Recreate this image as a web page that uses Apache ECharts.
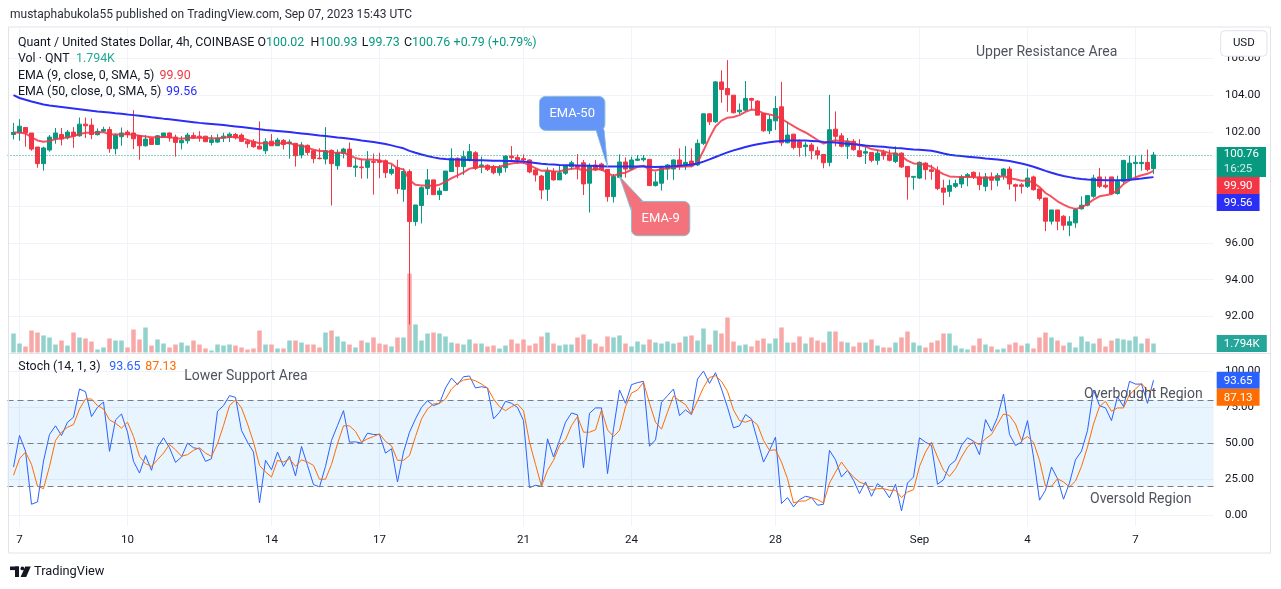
<!DOCTYPE html>
<html>
<head>
<meta charset="utf-8">
<title>Quant / United States Dollar, 4h</title>
<script src="https://cdn.jsdelivr.net/npm/echarts@6/dist/echarts.min.js"></script>
<style>
html,body{margin:0;padding:0;background:#ffffff;}
#chart{width:1281px;height:589px;}
</style>
</head>
<body>
<div id="chart"></div>
<script>
// ---------------- data, first candle = Aug 6 20:00 UTC, 4h bars ----------------
const firstBarUTC = Date.UTC(2023, 7, 6, 20);
const barHours = 4;

const opens = [
101.87,101.96,102.25,101.95,101.19,100.29,101.03,101.62,101.87,101.69,
102.00,101.80,102.43,102.38,101.86,102.05,102.14,101.10,101.75,102.00,
101.95,101.82,101.26,101.66,101.33,101.71,101.95,101.73,101.42,101.53,
101.82,101.78,101.78,101.44,101.46,101.68,101.71,101.87,101.84,101.51,
101.48,101.24,100.99,101.51,101.26,101.55,101.37,101.39,100.76,101.28,
100.99,100.59,100.54,101.01,100.18,100.85,101.08,100.09,100.11,100.09,
100.40,100.45,100.45,99.77,100.07,98.90,99.86,97.15,98.02,98.94,
99.41,98.61,98.83,99.86,100.58,100.13,100.52,100.88,100.13,100.20,
100.13,99.80,100.07,100.70,100.63,100.56,100.49,99.95,99.62,98.90,
99.86,99.41,99.77,100.13,100.16,100.34,99.23,100.22,100.27,99.98,
98.50,99.55,100.38,100.00,100.47,100.50,100.52,99.10,99.23,100.00,
100.00,100.49,100.16,100.43,100.22,101.39,102.99,102.56,104.72,104.36,
104.00,103.10,103.19,103.82,103.68,103.01,102.07,102.61,103.37,101.42,
101.89,101.48,101.21,101.30,100.99,100.79,100.36,102.16,101.80,101.23,
101.50,100.99,100.86,100.90,100.47,100.90,100.77,100.41,100.86,100.14,
99.55,99.51,100.32,99.96,99.93,98.97,98.79,99.06,99.19,99.57,
99.82,99.57,99.06,99.57,99.39,99.64,100.00,99.15,99.14,99.06,
99.57,98.92,98.43,97.17,97.78,97.44,96.95,97.08,97.84,98.04,
98.52,99.57,99.12,99.57,98.67,99.33,99.42,100.29,100.29,100.36,
100.02];
const highs = [
102.50,102.70,102.25,101.95,101.19,101.21,101.84,102.22,102.22,102.11,
102.27,102.79,102.79,102.74,102.20,102.29,102.29,101.93,102.25,102.11,
103.19,101.82,101.84,101.69,101.84,101.96,101.98,101.86,101.78,101.96,
101.98,102.05,101.78,101.84,101.89,101.96,101.98,101.96,101.93,101.62,
101.62,102.58,101.66,101.89,101.69,101.62,101.60,101.39,101.46,101.33,
101.06,101.12,102.27,101.06,101.06,101.15,101.44,100.56,100.56,100.97,
100.83,100.88,100.52,100.22,100.50,100.04,99.98,98.05,99.05,100.00,
99.41,98.99,99.89,101.12,100.63,100.99,101.35,100.97,100.67,100.25,
100.22,100.22,100.76,101.24,100.79,100.79,100.52,100.04,99.68,100.09,
100.04,100.22,100.22,100.45,100.81,100.49,100.31,100.49,100.34,99.98,
99.73,100.79,100.63,100.67,100.76,100.76,100.52,99.86,100.13,100.27,
100.52,101.12,101.24,101.12,101.60,103.01,103.01,104.77,105.35,105.90,
104.00,103.55,104.77,103.86,103.73,103.01,102.92,103.95,104.72,102.56,
101.89,101.60,101.48,101.42,101.21,100.79,104.02,103.12,101.95,101.68,
101.62,101.62,101.23,100.90,101.05,101.05,101.05,101.23,100.90,100.14,
99.60,100.41,100.36,100.23,100.14,99.42,99.42,99.42,99.69,99.78,
99.87,99.82,99.78,99.82,99.78,100.05,100.14,99.21,99.24,100.02,
99.64,98.92,98.43,97.78,97.78,97.50,97.44,97.89,98.52,98.56,
99.69,100.05,99.60,99.57,99.64,100.47,100.72,100.72,100.77,101.05,
100.93];
const lows = [
101.60,101.53,101.21,100.99,100.07,99.91,100.94,101.37,101.28,101.60,
101.15,101.75,101.68,101.62,101.82,101.98,100.88,100.79,101.26,101.69,
101.08,100.50,101.21,101.30,101.30,101.69,101.48,100.67,101.06,101.37,
101.64,101.48,101.46,101.28,101.42,101.46,101.46,101.60,101.46,101.15,
101.15,101.08,100.81,101.26,101.26,101.06,100.56,100.13,100.58,100.76,
100.31,100.52,100.25,98.02,99.96,100.58,100.13,99.57,99.48,99.48,
98.61,99.50,99.51,99.66,98.65,98.23,91.57,96.92,97.05,98.59,
98.61,98.32,98.83,99.84,99.50,99.68,100.41,99.95,99.77,99.89,
99.71,99.64,99.82,100.49,100.27,100.27,99.77,99.32,98.36,98.27,
99.37,99.41,99.68,99.95,99.44,98.59,97.64,99.89,99.89,98.23,
98.18,99.53,99.53,99.95,100.43,100.40,99.10,99.05,98.83,99.41,
99.41,99.95,99.95,100.09,100.16,101.30,102.38,102.50,103.59,103.10,
103.01,102.97,103.10,103.19,102.92,102.02,101.89,102.11,101.24,101.39,
101.06,100.67,100.67,100.52,100.52,100.04,100.14,101.23,101.17,100.54,
100.99,100.63,100.27,100.36,100.23,100.50,100.41,100.32,100.05,98.34,
98.88,99.46,99.42,99.42,98.85,98.04,98.49,98.97,98.97,99.06,
99.46,98.85,98.79,98.85,99.06,99.42,98.88,98.25,98.67,98.97,
98.83,98.29,96.63,96.99,96.68,96.68,96.36,96.81,97.80,97.98,
98.43,98.97,98.94,98.61,98.61,99.24,99.33,99.46,99.91,99.87,
99.73];
const closes = [
101.98,102.32,101.96,101.08,100.29,101.14,101.73,101.95,101.62,102.00,
101.78,102.43,102.34,101.87,102.04,102.14,101.10,101.84,101.95,101.87,
101.64,101.26,101.62,101.33,101.80,101.95,101.68,101.44,101.55,101.84,
101.68,101.69,101.48,101.59,101.66,101.78,101.89,101.69,101.50,101.37,
101.21,101.08,101.48,101.26,101.57,101.33,101.46,100.72,101.30,100.90,
100.56,100.56,100.99,100.29,100.88,101.08,100.13,100.16,100.07,100.45,
100.36,100.36,99.80,99.98,98.94,99.86,97.15,98.05,98.99,99.41,
98.61,98.81,99.89,100.58,100.13,100.67,100.94,100.04,100.22,99.98,
99.80,100.09,100.70,100.61,100.49,100.49,99.84,99.68,98.86,99.89,
99.41,99.80,100.16,100.34,100.09,99.19,100.16,99.95,99.95,98.50,
99.59,100.38,100.00,100.49,100.54,100.58,99.10,99.30,100.09,100.22,
100.49,100.16,100.36,100.16,101.39,102.99,102.56,104.72,104.31,104.02,
103.05,103.19,103.82,103.73,102.92,102.07,102.68,103.28,101.42,101.84,
101.17,101.17,101.30,100.99,100.76,100.34,102.13,101.77,101.23,101.50,
101.05,100.68,100.94,100.47,100.86,100.72,100.47,100.86,100.11,99.57,
99.60,100.36,99.96,99.87,98.94,98.74,99.10,99.21,99.57,99.69,
99.57,99.15,99.57,99.39,99.64,100.00,99.19,99.06,99.06,99.51,
98.88,98.40,97.17,97.78,97.17,96.95,97.14,97.80,98.04,98.56,
99.51,99.06,99.03,98.67,99.33,100.47,100.32,100.36,100.36,99.97,
100.76];
// volume in thousands of QNT
const volumes = [
3.78,1.79,1.20,4.38,3.98,3.39,2.99,1.59,2.39,1.39,
3.98,2.99,2.79,2.19,0.60,1.00,2.79,2.39,2.39,1.00,
4.58,2.59,4.98,1.39,2.59,1.79,1.00,1.59,1.99,1.39,
2.39,1.59,0.80,0.40,1.59,1.39,1.59,1.39,1.00,0.60,
0.80,4.38,1.59,1.59,0.80,0.80,2.39,2.39,1.99,1.59,
1.59,1.00,3.98,4.38,3.19,2.19,1.59,1.00,2.39,1.99,
2.99,1.79,1.59,1.20,2.99,2.99,15.7,5.58,2.39,3.78,
3.98,3.78,3.19,1.99,1.79,1.59,2.59,1.79,1.79,1.20,
1.39,0.80,1.39,2.59,1.79,2.59,1.39,1.79,3.19,3.98,
1.79,1.39,1.59,1.59,2.99,3.59,2.59,1.79,1.20,3.19,
2.99,3.39,1.79,1.20,2.19,1.59,2.59,1.99,1.79,2.19,
1.79,1.99,3.19,3.39,2.39,4.78,1.59,4.38,3.78,6.97,
2.19,1.39,1.59,1.20,2.39,2.79,1.79,2.79,4.98,1.99,
1.99,3.19,1.79,2.99,2.39,1.99,4.18,4.18,2.19,1.99,
1.20,1.99,1.99,2.59,1.39,1.00,1.00,1.99,2.99,4.18,
1.99,1.39,1.00,1.99,2.39,3.78,3.78,1.39,0.80,0.60,
1.39,2.79,1.59,1.20,0.60,0.80,1.59,1.99,1.39,1.79,
0.80,2.99,3.98,2.99,2.39,1.39,1.99,1.00,3.19,2.19,
1.79,2.79,1.20,2.39,2.79,2.59,2.39,3.19,1.79,2.79,
1.794];
const ema9 = [
101.98,101.98,101.93,101.72,101.55,101.48,101.52,101.62,101.66,101.72,
101.78,101.90,101.96,101.97,101.98,102.00,101.88,101.87,101.88,101.88,
101.86,101.80,101.76,101.72,101.72,101.74,101.73,101.66,101.64,101.68,
101.70,101.70,101.68,101.66,101.67,101.70,101.74,101.73,101.68,101.58,
101.48,101.40,101.40,101.38,101.40,101.40,101.42,101.28,101.28,101.15,
101.05,100.98,100.98,100.90,100.88,100.90,100.72,100.60,100.52,100.52,
100.50,100.48,100.36,100.28,100.04,99.98,99.40,99.14,99.10,99.10,
99.08,99.15,99.30,99.50,99.65,99.82,100.02,100.08,100.12,100.12,
100.10,100.12,100.22,100.30,100.34,100.35,100.20,100.05,99.90,99.92,
99.86,99.88,99.94,100.02,100.04,99.90,99.96,99.98,99.98,99.78,
99.62,99.76,99.80,99.96,100.12,100.18,99.96,99.92,100.00,100.04,
100.10,100.12,100.14,100.15,100.35,101.00,101.70,102.30,102.62,102.78,
102.82,102.92,103.10,103.22,103.18,103.02,102.95,102.88,102.72,102.52,
102.32,102.13,101.98,101.78,101.57,101.38,101.48,101.56,101.50,101.50,
101.42,101.28,101.22,101.08,101.02,100.96,100.86,100.84,100.70,100.45,
100.30,100.28,100.22,100.12,99.90,99.72,99.60,99.58,99.57,99.57,
99.57,99.52,99.54,99.52,99.55,99.62,99.50,99.44,99.36,99.38,
99.25,99.02,98.70,98.50,98.25,98.07,97.92,97.84,97.92,98.10,
98.34,98.52,98.58,98.64,98.85,99.18,99.40,99.55,99.66,99.74,
99.90];
const ema50 = [
104.00,103.85,103.75,103.66,103.58,103.50,103.44,103.40,103.36,103.32,
103.28,103.24,103.20,103.16,103.12,103.09,103.06,103.02,102.99,102.95,
102.92,102.88,102.84,102.80,102.77,102.73,102.70,102.66,102.62,102.58,
102.54,102.50,102.47,102.44,102.41,102.38,102.34,102.31,102.28,102.24,
102.20,102.16,102.12,102.09,102.06,102.03,102.00,101.96,101.93,101.90,
101.86,101.82,101.79,101.75,101.71,101.68,101.64,101.60,101.55,101.51,
101.46,101.41,101.35,101.28,101.20,101.12,100.98,100.88,100.79,100.70,
100.63,100.57,100.54,100.52,100.51,100.50,100.49,100.48,100.47,100.46,
100.45,100.45,100.44,100.43,100.42,100.40,100.36,100.33,100.29,100.26,
100.24,100.22,100.21,100.20,100.19,100.18,100.17,100.16,100.15,100.14,
100.13,100.13,100.13,100.13,100.13,100.13,100.12,100.11,100.12,100.13,
100.15,100.17,100.20,100.24,100.30,100.40,100.52,100.65,100.78,100.90,
101.01,101.10,101.19,101.27,101.34,101.40,101.45,101.49,101.52,101.54,
101.55,101.55,101.54,101.52,101.50,101.47,101.45,101.43,101.40,101.37,
101.34,101.31,101.27,101.24,101.22,101.20,101.17,101.14,101.12,101.09,
101.06,101.04,101.02,100.99,100.92,100.84,100.77,100.73,100.70,100.67,
100.64,100.61,100.57,100.54,100.51,100.47,100.43,100.37,100.30,100.22,
100.12,100.01,99.90,99.80,99.70,99.62,99.56,99.50,99.46,99.43,
99.41,99.40,99.39,99.39,99.39,99.40,99.42,99.45,99.48,99.52,
99.56];
const stochK = [
33.6,55.4,44.6,7.8,9.4,37.7,56.1,62.1,55.4,64.6,
68.0,87.6,85.7,68.5,74.9,78.6,44.4,66.2,70.3,57.7,
37.5,29.4,41.6,31.3,47.4,53.8,46.9,36.8,40.5,50.1,
46.9,46.2,37.5,39.3,72.2,76.1,83.0,81.8,58.9,50.8,
43.9,8.7,38.2,31.7,43.9,34.0,41.1,27.4,47.8,34.7,
21.4,19.8,34.0,52.0,62.3,72.6,50.8,51.0,50.1,57.0,
56.1,56.1,43.2,46.2,23.2,43.9,57.7,66.9,74.9,79.5,
76.1,77.7,88.3,95.2,90.6,96.1,96.6,88.3,89.2,88.3,
66.9,71.5,79.1,77.7,74.9,65.7,19.3,20.9,20.2,53.1,
40.5,52.0,64.6,71.0,69.7,33.1,70.8,74.5,74.5,29.0,
60.0,86.9,77.7,90.6,92.0,92.9,48.0,52.4,78.4,83.0,
87.6,69.2,73.1,69.9,94.5,100.0,91.5,98.9,87.6,74.9,
60.7,62.1,69.9,66.9,52.0,37.0,45.1,54.3,8.3,12.4,
6.0,11.0,13.3,12.4,7.1,7.8,45.1,38.6,26.7,31.3,
24.4,15.2,23.2,13.3,22.1,18.6,12.2,21.6,3.2,22.5,
26.7,53.8,50.8,48.5,21.6,24.8,34.7,38.2,48.5,53.8,
51.5,42.1,66.4,58.4,68.0,84.1,56.1,48.5,50.8,65.7,
40.5,10.6,17.5,33.6,25.5,11.3,22.5,38.6,44.6,58.9,
86.9,76.1,74.5,65.7,82.3,75.4,92.9,91.0,91.0,77.7,
93.65];
const stochD = [
27.8,39.3,43.9,35.4,20.2,18.6,34.0,52.0,57.7,61.1,
63.0,73.8,80.7,80.7,76.1,73.8,66.2,63.9,60.5,64.6,
54.7,40.9,35.9,34.0,38.6,43.2,49.2,45.5,41.1,42.1,
45.1,46.9,43.2,40.9,49.7,62.3,76.1,80.0,74.5,63.4,
50.8,34.7,30.1,26.7,38.2,37.0,39.3,34.0,38.6,37.0,
34.7,25.1,25.1,35.4,49.7,62.1,62.1,58.2,50.8,53.1,
54.7,56.6,51.3,48.3,38.2,38.2,41.6,54.7,66.9,73.8,
77.2,77.7,80.7,87.6,91.5,93.8,94.5,93.3,91.0,88.3,
80.7,75.4,72.6,75.4,77.2,72.6,50.8,35.4,20.2,31.3,
38.2,48.5,52.4,62.3,68.5,57.7,57.7,59.3,73.1,59.3,
54.7,58.9,75.4,84.8,86.9,92.2,77.7,64.6,59.8,71.5,
82.8,79.5,76.8,70.3,79.5,88.7,95.6,96.8,92.9,86.0,
73.1,65.7,64.6,66.2,62.8,52.0,45.1,45.5,37.0,25.5,
8.7,9.9,10.1,12.4,11.0,8.7,22.5,30.1,37.0,31.3,
26.7,23.2,21.6,17.5,18.6,18.6,17.5,17.5,12.4,16.3,
17.9,34.0,43.9,50.8,40.5,31.3,27.1,32.4,40.5,47.4,
51.3,49.0,53.1,56.1,63.4,70.3,69.2,63.4,52.0,54.7,
50.8,38.2,20.2,20.2,25.5,23.2,19.8,23.9,34.0,47.4,
63.4,75.4,79.1,72.2,74.5,74.5,83.7,87.6,91.5,86.4,
87.13];

// axis ticks
const tickDates  = ['2023-08-07','2023-08-10','2023-08-14','2023-08-17','2023-08-21','2023-08-24','2023-08-28','2023-09-01','2023-09-04','2023-09-07'];
const tickLabels = ['7','10','14','17','21','24','28','Sep','4','7'];
const priceAxis = {min: 90, max: 108, step: 2};
const stochAxis = {min: 0, max: 100, step: 25};
const stochLevels = [80, 50, 20];
const stochBand = [20, 80];

// ---------------- layout / styles ----------------
const FONT = 'Roboto, "Noto Sans", sans-serif';
const UP = '#089981', DOWN = '#f23645';
const VOL_UP = '#92d2cc', VOL_DOWN = '#f7a9a7';
const EMA9_C = '#f23645', EMA50_C = '#2b2ef5';
const K_C = '#2962ff', D_C = '#ff6d00';
const GRID_C = '#f0f3fa', BORDER_C = '#e0e3eb', TXT = '#131722';
const leadSlots = 1, tailSlots = 10;
const PLOT_LEFT = 7.5, SLOT_W = 6;

const N = closes.length;
const SLOTS = leadSlots + N + tailSlots;
const categories = [];
for (let s = 0; s < SLOTS; s++) {
  categories.push(new Date(firstBarUTC + (s - leadSlots) * barHours * 3600e3).toISOString().slice(0, 16).replace('T', ' '));
}
const tickAt = {};
tickDates.forEach((d, k) => { tickAt[d + ' 00:00'] = tickLabels[k]; });
const isTick = idx => tickAt[categories[idx]] !== undefined;
const slot = k => k + leadSlots;
const PLOT_W = (SLOTS - 1) * SLOT_W;

const candleData = closes.map((c, k) => [slot(k), opens[k], c, lows[k], highs[k]]);
const volData = volumes.map((v, k) => ({value: [slot(k), v], itemStyle: {color: closes[k] >= opens[k] ? VOL_UP : VOL_DOWN}}));
const line = arr => arr.map((v, k) => [slot(k), v]);
const last = N - 1;

const xAxes = [0, 1, 2, 3].map(g => ({
  type: 'category', gridIndex: g, data: categories, boundaryGap: false,
  show: g === 1 || g === 3,
  axisLine: {show: false}, axisTick: {show: false},
  axisLabel: g === 3 ? {show: true, interval: i => isTick(i), formatter: v => tickAt[v] || '',
    color: TXT, fontSize: 11.5, fontFamily: FONT, margin: 8} : {show: false},
  splitLine: {show: g === 1 || g === 3, interval: i => isTick(i), lineStyle: {color: GRID_C, width: 1}}
}));

const option = {
  animation: false,
  backgroundColor: '#ffffff',
  textStyle: {fontFamily: FONT},
  grid: [
    {left: PLOT_LEFT, width: PLOT_W, top: 21.4, height: 332.1},
    {left: PLOT_LEFT, width: PLOT_W, top: 27.5, height: 325},
    {left: PLOT_LEFT, width: PLOT_W, top: 371.1, height: 144.4},
    {left: PLOT_LEFT, width: PLOT_W, top: 354.5, height: 172}
  ],
  xAxis: xAxes,
  yAxis: [
    {gridIndex: 0, type: 'value', min: priceAxis.min, max: priceAxis.max, interval: priceAxis.step, position: 'right',
     axisLine: {show: false}, axisTick: {show: false}, splitLine: {lineStyle: {color: GRID_C}},
     axisLabel: {formatter: v => v.toFixed(2), color: TXT, fontSize: 11.5, fontFamily: FONT, margin: 11.5, showMinLabel: false, showMaxLabel: false}},
    {gridIndex: 1, type: 'value', min: 0, max: 64.7, show: false},
    {gridIndex: 2, type: 'value', min: stochAxis.min, max: stochAxis.max, interval: stochAxis.step, position: 'right',
     axisLine: {show: false}, axisTick: {show: false}, splitLine: {lineStyle: {color: GRID_C}},
     axisLabel: {formatter: v => v.toFixed(2), color: TXT, fontSize: 11.5, fontFamily: FONT, margin: 11.5}},
    {gridIndex: 3, type: 'value', min: 0, max: 1, show: false}
  ],
  series: [
    {type: 'bar', name: 'Vol', xAxisIndex: 1, yAxisIndex: 1, data: volData, barWidth: 4.5, z: 1, silent: true},
    {type: 'candlestick', name: 'QNTUSD', xAxisIndex: 0, yAxisIndex: 0, data: candleData,
     encode: {x: 0, y: [1, 2, 3, 4]}, barWidth: 3.6, z: 3, silent: true,
     itemStyle: {color: UP, color0: DOWN, borderColor: UP, borderColor0: DOWN, borderWidth: 1},
     markLine: {silent: true, symbol: 'none', label: {show: false},
       lineStyle: {color: UP, type: [1, 2], width: 1, opacity: 0.9}, data: [{yAxis: closes[last]}]}},
    {type: 'line', name: 'EMA9', xAxisIndex: 0, yAxisIndex: 0, data: line(ema9), showSymbol: false, z: 4, silent: true,
     lineStyle: {color: EMA9_C, width: 2, opacity: 0.85}},
    {type: 'line', name: 'EMA50', xAxisIndex: 0, yAxisIndex: 0, data: line(ema50), showSymbol: false, z: 4, silent: true,
     lineStyle: {color: EMA50_C, width: 2}},
    {type: 'line', name: '%K', xAxisIndex: 2, yAxisIndex: 2, data: line(stochK), showSymbol: false, z: 4, silent: true,
     lineStyle: {color: K_C, width: 1},
     markArea: {silent: true, itemStyle: {color: 'rgba(33,150,243,0.1)'}, data: [[{yAxis: stochBand[0]}, {yAxis: stochBand[1]}]]},
     markLine: {silent: true, symbol: 'none', label: {show: false}, lineStyle: {color: '#787b86', type: [6, 4], width: 1},
       data: stochLevels.map(v => ({yAxis: v}))}},
    {type: 'line', name: '%D', xAxisIndex: 2, yAxisIndex: 2, data: line(stochD), showSymbol: false, z: 4, silent: true,
     lineStyle: {color: D_C, width: 1}}
  ]
};

const chart = echarts.init(document.getElementById('chart'), null, {renderer: 'canvas', width: 1281, height: 589});
chart.setOption(option);

// ---------------- overlays (texts, tags, drawings) ----------------
function txt(x, y, text, font, fill, extra) {
  return Object.assign({type: 'text', x: x, y: y, z: 120, silent: true,
    style: {text: text, font: font, fill: fill, verticalAlign: 'middle', align: 'left'}}, extra || {});
}
const F12 = '12px ' + FONT, F124 = '12.4px ' + FONT, F115 = '11.5px ' + FONT, F14 = '14px ' + FONT, F13 = '13px ' + FONT;
const g = [];
// cover above pane, frame and separators
g.push({type: 'rect', z: 100, silent: true, shape: {x: 0, y: 0, width: 1281, height: 27}, style: {fill: '#ffffff'}});
g.push({type: 'rect', z: 101, silent: true, shape: {x: 8.5, y: 27, width: 1262, height: 526}, style: {fill: 'none', stroke: BORDER_C, lineWidth: 1}});
g.push({type: 'line', z: 101, silent: true, shape: {x1: 8.5, y1: 353.5, x2: 1270.5, y2: 353.5}, style: {stroke: BORDER_C, lineWidth: 1}});
// header
g.push(txt(10, 15, 'mustaphabukola55 published on TradingView.com, Sep 07, 2023 15:43 UTC', F12, '#2a2e39'));
// legends
const fmt = v => v.toFixed(2);
const chg = closes[last] - closes[last - 1];
const chgPct = chg / closes[last - 1] * 100;
const sgn = v => (v >= 0 ? '+' : '') + v.toFixed(2);
g.push(txt(17.9, 42.7, 'Quant / United States Dollar, 4h, COINBASE', F124, TXT));
const ohlc = [['O', opens[last], 257.5], ['H', highs[last], 310.5], ['L', lows[last], 361.8], ['C', closes[last], 404]];
ohlc.forEach(o => g.push({type: 'text', x: o[2], y: 42.7, z: 120, silent: true,
  style: {text: '{a|' + o[0] + '}{b|' + fmt(o[1]) + '}', verticalAlign: 'middle', font: F124,
    rich: {a: {fill: TXT, font: F124}, b: {fill: UP, font: F124}}}}));
g.push(txt(453.6, 42.7, sgn(chg) + ' (' + sgn(chgPct) + '%)', F124, UP));
g.push(txt(17.9, 59, 'Vol · QNT', F124, TXT));
g.push(txt(76, 59, volumes[last].toFixed(3) + 'K', F124, '#22ab94'));
g.push(txt(17.9, 75.7, 'EMA (9, close, 0, SMA, 5)', F124, TXT));
g.push(txt(159.6, 75.7, fmt(ema9[last]), F124, EMA9_C));
g.push(txt(17.9, 92.3, 'EMA (50, close, 0, SMA, 5)', F124, TXT));
g.push(txt(166, 92.3, fmt(ema50[last]), F124, EMA50_C));
g.push(txt(18.3, 367.3, 'Stoch (14, 1, 3)', F124, TXT));
g.push(txt(109.3, 367.3, fmt(stochK[last]), F124, K_C));
g.push(txt(145.3, 367.3, fmt(stochD[last]), F124, D_C));
// text drawings
const NOTE_C = '#50535e';
g.push(txt(976, 52.7, 'Upper Resistance Area', F14, NOTE_C));
g.push(txt(184.3, 376, 'Lower Support Area', F14, NOTE_C));
g.push(txt(1084, 394.3, 'Overbought Region', F14, NOTE_C));
g.push(txt(1090, 499.3, 'Oversold Region', F14, NOTE_C));

// callouts anchored at the EMA lines
function px(k, v) { return chart.convertToPixel({xAxisIndex: 0, yAxisIndex: 0}, [slot(k), v]); }
const c50 = px(99, ema50[99]);
const c9 = px(101, ema9[101]);
const CALL_BORDER = '#86bfd6';
(function () {
  const tx = c50[0], ty = c50[1];
  const bx = tx - 68, by = ty - 70, bw = 65.4, bh = 34;
  const tri = [[tx - 11.5, by + bh - 0.5], [tx - 3.5, by + bh - 0.5], [tx, ty]];
  g.push({type: 'polygon', z: 110, silent: true, shape: {points: tri}, style: {fill: '#6495f7', stroke: CALL_BORDER, lineWidth: 1}});
  g.push({type: 'rect', z: 111, silent: true, shape: {x: bx, y: by, width: bw, height: bh, r: 6}, style: {fill: '#6495f7', stroke: CALL_BORDER, lineWidth: 1}});
  g.push({type: 'polygon', z: 112, silent: true, shape: {points: [[tx - 11, by + bh - 2], [tx - 4, by + bh - 2], [tx - 1, ty - 3]]}, style: {fill: '#6495f7'}});
  g.push({type: 'text', z: 113, silent: true, x: bx + bw / 2, y: by + bh / 2, style: {text: 'EMA-50', font: F13, fill: '#ffffff', align: 'center', verticalAlign: 'middle'}});
})();
(function () {
  const tx = c9[0], ty = c9[1] + 3;
  const bx = tx + 12, by = ty + 25, bw = 58.3, bh = 34.3;
  const tri = [[tx, ty], [bx + 0.5, by + 11], [bx + 12, by + 0.5]];
  g.push({type: 'polygon', z: 110, silent: true, shape: {points: tri}, style: {fill: '#f3727b', stroke: CALL_BORDER, lineWidth: 1}});
  g.push({type: 'rect', z: 111, silent: true, shape: {x: bx, y: by, width: bw, height: bh, r: 6}, style: {fill: '#f3727b', stroke: CALL_BORDER, lineWidth: 1}});
  g.push({type: 'polygon', z: 112, silent: true, shape: {points: [[tx + 2, ty + 3], [bx + 2, by + 10], [bx + 11, by + 2]]}, style: {fill: '#f3727b'}});
  g.push({type: 'text', z: 113, silent: true, x: bx + bw / 2, y: by + bh / 2, style: {text: 'EMA-9', font: F13, fill: '#ffffff', align: 'center', verticalAlign: 'middle'}});
})();

// price scale tags (stacked to avoid overlap, like the original)
function stack(tags) {
  tags.sort((a, b) => (a.y - a.off) - (b.y - b.off));
  let bottom = -Infinity;
  tags.forEach(t => { let top = t.y - t.off; if (top < bottom) top = bottom; t.top = top; bottom = top + t.h; });
  return tags;
}
const TAG_X = 1216.7;
const yPx = (axis, v) => chart.convertToPixel({yAxisIndex: axis}, v);
const mainTags = stack([
  {y: yPx(0, closes[last]), off: 8, h: 30, bg: UP, two: true, text: fmt(closes[last]), sub: '16:25'},
  {y: yPx(0, ema9[last]), off: 8.5, h: 17, bg: EMA9_C, text: fmt(ema9[last])},
  {y: yPx(0, ema50[last]), off: 8.5, h: 17, bg: EMA50_C, text: fmt(ema50[last])}
]);
const stochTags = stack([
  {y: yPx(2, stochK[last]), off: 8.5, h: 17, bg: K_C, text: fmt(stochK[last])},
  {y: yPx(2, stochD[last]), off: 8.5, h: 17, bg: D_C, text: fmt(stochD[last])}
]);
const volTags = stack([{y: yPx(1, volumes[last]), off: 8.5, h: 17, bg: '#26a69a', text: volumes[last].toFixed(3) + 'K'}]);
mainTags.concat(stochTags, volTags).forEach(t => {
  if (t.two) {
    g.push({type: 'text', z: 130, silent: true, x: TAG_X, y: t.top, style: {
      text: '{a|' + t.text + '}\n{b|' + t.sub + '}', verticalAlign: 'top', backgroundColor: t.bg, padding: [0, 7, 0, 7],
      rich: {a: {fill: '#ffffff', font: F115, lineHeight: 15}, b: {fill: 'rgba(255,255,255,0.82)', font: F115, lineHeight: 15}}}});
  } else {
    g.push({type: 'text', z: 130, silent: true, x: TAG_X, y: t.top, style: {
      text: t.text, font: F115, fill: '#ffffff', verticalAlign: 'top', backgroundColor: t.bg,
      padding: [3, 7, 2, 7], lineHeight: 12}});
  }
});
// currency button
g.push({type: 'rect', z: 130, silent: true, shape: {x: 1220.7, y: 30.7, width: 46.3, height: 25.5, r: 4}, style: {fill: '#ffffff', stroke: BORDER_C, lineWidth: 1}});
g.push({type: 'text', z: 131, silent: true, x: 1243.8, y: 43.3, style: {text: 'USD', font: F115, fill: TXT, align: 'center', verticalAlign: 'middle'}});
// TradingView logo
const LOGO_Y = 572;
g.push({type: 'rect', z: 120, silent: true, shape: {x: 10, y: LOGO_Y - 5.5, width: 9, height: 3.6}, style: {fill: TXT}});
g.push({type: 'rect', z: 120, silent: true, shape: {x: 15, y: LOGO_Y - 5.5, width: 4, height: 10.5}, style: {fill: TXT}});
g.push({type: 'circle', z: 120, silent: true, shape: {cx: 22.4, cy: LOGO_Y - 3.6, r: 1.9}, style: {fill: TXT}});
g.push({type: 'polygon', z: 120, silent: true, shape: {points: [[25.2, LOGO_Y - 5.5], [30.8, LOGO_Y - 5.5], [26.2, LOGO_Y + 5], [20.6, LOGO_Y + 5]]}, style: {fill: TXT}});
g.push(txt(34, LOGO_Y, 'TradingView', '12.8px ' + FONT, TXT));

chart.setOption({graphic: {elements: g}});
</script>
</body>
</html>
